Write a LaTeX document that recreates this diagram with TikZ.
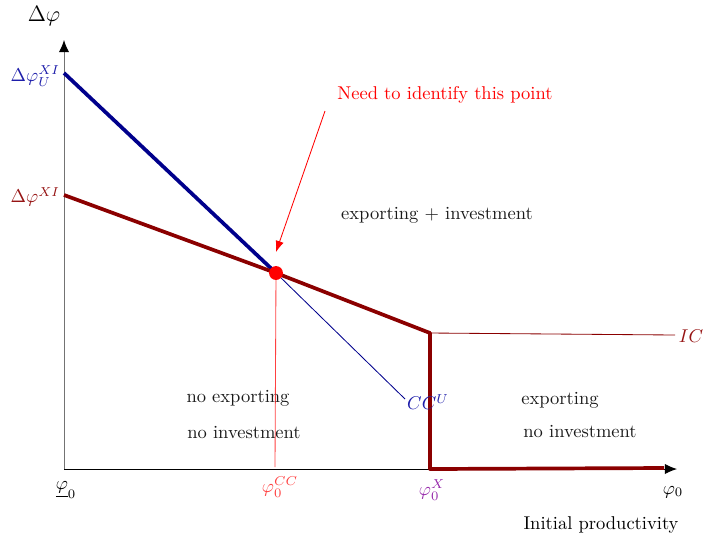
\documentclass[tikz,border=0pt]{standalone}
\usepackage{amsmath,amssymb}
\usetikzlibrary{arrows.meta}
\definecolor{upperblue}{RGB}{0,0,140}
\definecolor{lblblue}{RGB}{30,30,170}
\definecolor{bounddarkred}{RGB}{139,0,0}
\definecolor{lblred}{RGB}{150,20,20}
\definecolor{cutpurple}{RGB}{150,40,170}

\begin{document}
\begin{tikzpicture}[
  x=0.54pt, y=-0.54pt,
  axis/.style={-{Latex[length=6.5pt,width=5.5pt,color=black]}, line width=.5pt},
  upper/.style={line width=2pt, draw=upperblue},
  bound/.style={line width=2pt, draw=bounddarkred, line join=round},
  thinblue/.style={line width=.45pt, draw=upperblue},
  thinred/.style={line width=.45pt, draw=bounddarkred},
  note/.style={-{Latex[length=6pt,width=4.5pt]}, line width=.45pt, draw=red},
  region/.style={font=\normalsize, text=black!90}
]
\useasboundingbox (0,0) rectangle (705,535);
% key points
\coordinate (o) at (64,469);
\coordinate (ytip) at (64,40);
\coordinate (xtip) at (677,469);
\coordinate (xiu) at (64,73);
\coordinate (xi) at (64,195);
\coordinate (cc) at (276,273);
\coordinate (kink) at (430,333);
\coordinate (xcut) at (430,469);
\coordinate (boundend) at (664,468);
\coordinate (ccend) at (405,399);
\coordinate (icend) at (675,335);
\coordinate (ccfoot) at (275,467);
\coordinate (needtail) at (325,111);
\coordinate (needhead) at (276,252);

% axes
\draw[axis, draw=black!55] (o) -- (ytip);
\draw[axis] (o) -- (xtip);

% thin curves
\draw[thinblue] (cc) -- (ccend);
\draw[thinred] (kink) -- (icend);
\draw[line width=.45pt, draw=red!75] (cc) -- (ccfoot);

% thick curves
\draw[upper] (xiu) -- (cc);
\draw[bound] (xi) -- (cc) -- (kink) -- (xcut) -- (boundend);
\node[circle, fill=red, inner sep=0pt, minimum size=7.5pt] (dot) at (cc) {};

% axis labels
\node[font=\large] (ylab) at (44,16) {$\Delta\varphi$};
\node[left, text=lblblue, inner sep=2pt] (lxiu) at (64,76) {$\Delta\varphi_U^{XI}$};
\node[left, text=lblred, inner sep=2pt] (lxi) at (64,197) {$\Delta\varphi^{XI}$};
\node (lmin) at (66,490) {$\underline{\varphi}_0$};
\node[text=red!75] (lcc) at (280,487) {$\varphi_0^{CC}$};
\node[text=cutpurple] (lx) at (432,490) {$\varphi_0^{X}$};
\node (lphi) at (673,492) {$\varphi_0$};
\node (xlab) at (601,525) {Initial productivity};
\node[text=lblblue] (lccu) at (428,402) {$CC^U$};
\node[text=lblred] (lic) at (691,336) {$IC$};

% annotation
\node[text=red] (need) at (445,95) {Need to identify this point};
\draw[note] (needtail) -- (needhead);

% regions
\node[region] (expinv) at (437,215) {exporting + investment};
\node[region] (noexp) at (238,398) {no exporting};
\node[region] (noinv) at (244,433) {no investment};
\node[region] (exp) at (560,400) {exporting};
\node[region] (noinvb) at (580,432) {no investment};
\end{tikzpicture}
\end{document}
